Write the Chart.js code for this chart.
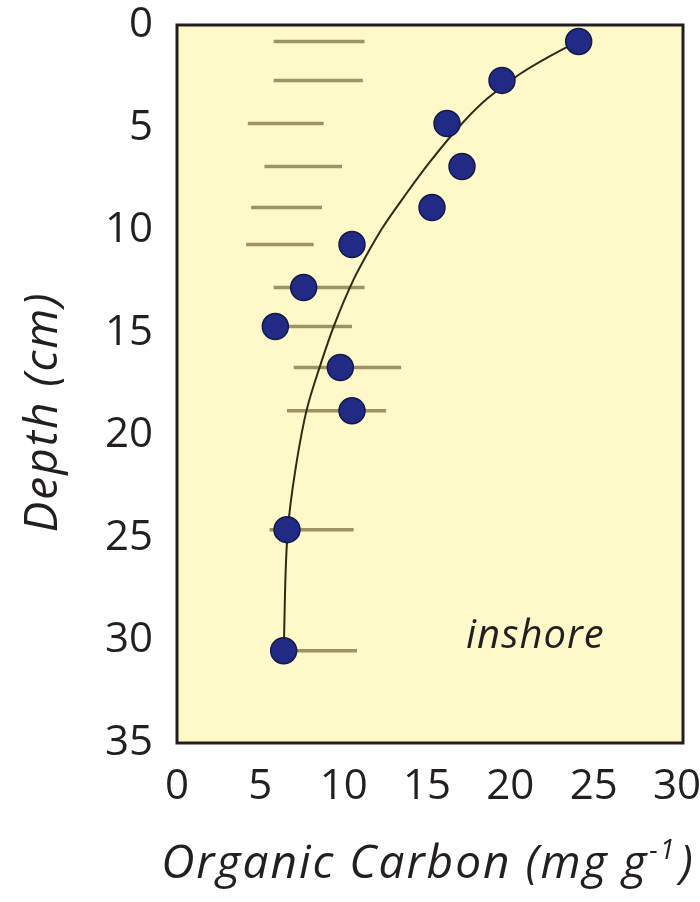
<!DOCTYPE html>
<html>
<head>
<meta charset="utf-8">
<script src="https://cdn.jsdelivr.net/npm/chart.js@4.4.1/dist/chart.umd.min.js"></script>
<style>
  html, body { margin: 0; padding: 0; background: #fff; overflow: hidden; }
  #wrap { width: 700px; height: 902px; }
  canvas { display: block; }
</style>
</head>
<body>
<div id="wrap"><canvas id="chart" width="700" height="902"></canvas></div>
<script>
// ---- data ----
const depth = [0.8, 2.7, 4.8, 6.9, 8.9, 10.7, 12.8, 14.7, 16.7, 18.8, 24.6, 30.5];
const carbon = [24.1, 19.5, 16.2, 17.1, 15.3, 10.5, 7.6, 5.9, 9.8, 10.5, 6.6, 6.4];
const rangeLo = [5.8, 5.8, 4.25, 5.25, 4.45, 4.15, 5.8, 5.65, 7.0, 6.6, 5.55, 6.4];
const rangeHi = [11.25, 11.15, 8.8, 9.9, 8.7, 8.2, 11.25, 10.5, 13.45, 12.55, 10.6, 10.8];

// fitted curve
const fitDepth = [0.8, 1.2, 2.4, 3.6, 4.8, 6.7, 8.4, 9.8, 11.1, 12.4, 14.7, 16.7, 18.7, 21.7, 24.6, 30.5];
const fitCarbon = [24.1, 23.1, 20.55, 18.6, 17.1, 15.15, 13.6, 12.4, 11.45, 10.6, 9.4, 8.55, 7.8, 7.1, 6.65, 6.4];

const xTicks = [0, 5, 10, 15, 20, 25, 30];
const yTicks = [0, 5, 10, 15, 20, 25, 30, 35];

const FONT = '"Open Sans", "Noto Sans", sans-serif';
const INK = '#231f20';

const pointData = depth.map((d, i) => ({ x: carbon[i], y: d }));
const fitData = fitDepth.map((d, i) => ({ x: fitCarbon[i], y: d }));
const rangeData = [];
depth.forEach((d, i) => {
  rangeData.push({ x: rangeLo[i], y: d }, { x: rangeHi[i], y: d }, { x: null, y: null });
});

// plot background, frame and hand-placed texts
const framePlugin = {
  id: 'frame',
  beforeDatasetsDraw(chart) {
    const { ctx, chartArea: a } = chart;
    ctx.save();
    ctx.fillStyle = '#fff9c9';
    ctx.fillRect(a.left, a.top, a.right - a.left, a.bottom - a.top);
    ctx.restore();
  },
  afterDatasetsDraw(chart) {
    const { ctx, chartArea: a, scales } = chart;
    ctx.save();
    ctx.strokeStyle = INK;
    ctx.lineWidth = 3;
    ctx.strokeRect(a.left, a.top, a.right - a.left, a.bottom - a.top);

    ctx.fillStyle = INK;
    // inshore label, placed in data units
    ctx.font = 'italic 40px ' + FONT;
    ctx.letterSpacing = '1px';
    ctx.textAlign = 'center';
    ctx.textBaseline = 'middle';
    ctx.fillText('inshore', scales.x.getPixelForValue(21.5), scales.y.getPixelForValue(29.8));

    // y title
    ctx.letterSpacing = '2px';
    ctx.save();
    ctx.translate(44, 412);
    ctx.rotate(-Math.PI / 2);
    ctx.font = 'italic 46px ' + FONT;
    ctx.fillText('Depth (cm)', 0, 0);
    ctx.restore();

    // x title with superscript
    const main = 'Organic Carbon (mg g';
    const sup = '-1';
    const tail = ')';
    ctx.textBaseline = 'alphabetic';
    ctx.textAlign = 'left';
    ctx.font = 'italic 46px ' + FONT;
    const w1 = ctx.measureText(main).width;
    const w3 = ctx.measureText(tail).width;
    ctx.font = 'italic 27px ' + FONT;
    const w2 = ctx.measureText(sup).width;
    const total = w1 + w2 + 4 + w3;
    const x0 = 428 - total / 2;
    const base = 878;
    ctx.font = 'italic 46px ' + FONT;
    ctx.fillText(main, x0, base);
    ctx.font = 'italic 27px ' + FONT;
    ctx.fillText(sup, x0 + w1 + 1, base - 19);
    ctx.font = 'italic 46px ' + FONT;
    ctx.fillText(tail, x0 + w1 + w2 + 4, base);
    ctx.restore();
  }
};

new Chart(document.getElementById('chart'), {
  type: 'scatter',
  data: {
    datasets: [
      {
        label: 'Organic carbon',
        data: pointData,
        pointRadius: 13,
        pointBackgroundColor: '#212a84',
        pointBorderColor: '#14194a',
        pointBorderWidth: 1.5,
        showLine: false,
      },
      {
        label: 'Fit',
        type: 'line',
        indexAxis: 'y',
        data: fitData,
        borderColor: '#2f2a12',
        borderWidth: 2,
        pointRadius: 0,
        cubicInterpolationMode: 'monotone',
        fill: false,
      },
      {
        label: 'Range',
        type: 'line',
        data: rangeData,
        borderColor: '#9c9262',
        borderWidth: 3.5,
        pointRadius: 0,
        spanGaps: false,
        tension: 0,
        fill: false,
      },
    ],
  },
  options: {
    responsive: false,
    animation: false,
    events: [],
    layout: { padding: { top: 25, right: 17, left: 0, bottom: 0 } },
    plugins: {
      legend: { display: false },
      tooltip: { enabled: false },
    },
    scales: {
      x: {
        type: 'linear',
        min: 0,
        max: 30.36,
        afterBuildTicks: (s) => { s.ticks = xTicks.map(v => ({ value: v })); },
        afterFit: (s) => { s.height = 159; s.paddingLeft = 0; s.paddingRight = 0; },
        ticks: {
          color: INK,
          font: { family: FONT, size: 42 },
          padding: 19,
          maxRotation: 0,
        },
        grid: { display: false, drawTicks: false },
        border: { display: false },
      },
      y: {
        type: 'linear',
        reverse: true,
        min: 0,
        max: 35,
        afterBuildTicks: (s) => { s.ticks = yTicks.map(v => ({ value: v })); },
        afterFit: (s) => { s.width = 177; s.paddingTop = 0; s.paddingBottom = 0; },
        ticks: {
          color: INK,
          font: { family: FONT, size: 42 },
          padding: 24,
        },
        grid: { display: false, drawTicks: false },
        border: { display: false },
      },
    },
  },
  plugins: [framePlugin],
});
</script>
</body>
</html>
